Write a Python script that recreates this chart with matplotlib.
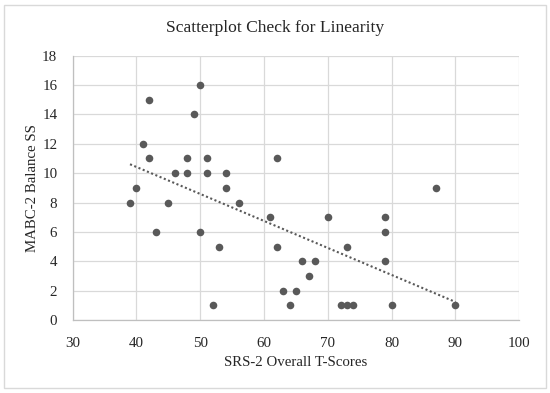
import matplotlib
matplotlib.use("Agg")
import matplotlib.pyplot as plt
import numpy as np
from matplotlib.patches import Rectangle

srs_scores = [39, 40, 41, 42, 42, 43, 45, 46, 48, 48, 49, 50, 50, 51, 51, 52, 53, 54, 54, 56,
              61, 62, 62, 63, 64, 65, 66, 67, 68, 70, 72, 73, 73, 74, 79, 79, 79, 80, 87, 90]
balance_ss = [8, 9, 12, 15, 11, 6, 8, 10, 11, 10, 14, 16, 6, 11, 10, 1, 5, 10, 9, 8,
              7, 11, 5, 2, 1, 2, 4, 3, 4, 7, 1, 1, 5, 1, 7, 6, 4, 1, 9, 1]
x_ticks = [30, 40, 50, 60, 70, 80, 90, 100]
y_ticks = [0, 2, 4, 6, 8, 10, 12, 14, 16, 18]

plt.rcParams['font.family'] = ['Liberation Serif', 'DejaVu Serif']

fig = plt.figure(figsize=(5.5, 3.93), dpi=100)
fig.patches.append(Rectangle((4/550, 1-388/393), 542/550, 383/393, transform=fig.transFigure,
                             fill=False, edgecolor='#d9d9d9', linewidth=1.0))
ax = fig.add_axes([72.6/550, 1-320/393, (519.3-72.6)/550, (320-55.7)/393])

x = np.array(srs_scores, dtype=float)
y = np.array(balance_ss, dtype=float)
ax.scatter(x, y, s=30, color='#595959', zorder=3, linewidths=0)

m, b = np.polyfit(x, y, 1)
xs = np.array([x.min(), x.max()])
ax.plot(xs, m*xs + b, linestyle=(0, (1, 1.2)), color='#595959', linewidth=1.5, zorder=2)

ax.set_xlim(30, 100)
ax.set_ylim(0, 18)
ax.set_xticks(x_ticks)
ax.set_yticks(y_ticks)
ax.grid(True, color='#d9d9d9', linewidth=0.9)
ax.set_axisbelow(True)
for side in ['top', 'right']:
    ax.spines[side].set_visible(False)
for side in ['left', 'bottom']:
    ax.spines[side].set_color('#bfbfbf')
    ax.spines[side].set_linewidth(0.9)
ax.tick_params(length=0, labelsize=10.8, colors='#404040')
ax.tick_params(axis='x', pad=12)
ax.tick_params(axis='y', pad=11)
for lab in ax.get_xticklabels() + ax.get_yticklabels():
    lab.set_color('#262626')

ax.set_xlabel('SRS-2 Overall T-Scores', fontsize=10.7, color='#262626', va='center')
ax.set_ylabel('MABC-2 Balance SS', fontsize=10.7, color='#262626', va='center')
ax.xaxis.set_label_coords(0.5, (320-363)/264.3)
ax.yaxis.set_label_coords((33-72.6)/446.7, 0.5)
fig.text(0.5, 1-28/393, 'Scatterplot Check for Linearity', ha='center', va='center',
         fontsize=12.6, color='#262626')

fig.savefig('out.png', dpi=100)
